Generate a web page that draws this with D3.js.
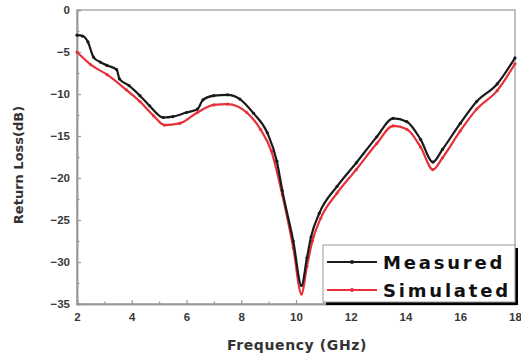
<!DOCTYPE html>
<html><head><meta charset="utf-8">
<script src="https://cdn.jsdelivr.net/npm/d3@7"></script>
<style>
html,body{margin:0;padding:0;background:#fff;}
svg{display:block;}
</style></head>
<body><svg id="c" width="521" height="362"></svg>
<script>
const measuredFreq = [2.0,2.2,2.4,2.6,2.85,3.1,3.45,3.55,3.9,4.3,4.65,5.15,5.5,6.0,6.4,6.6,7.0,7.5,7.95,8.45,8.95,9.3,9.5,9.9,10.2,10.4,10.55,10.85,11.5,12.2,12.95,13.55,14.05,14.55,15.0,15.35,16.0,16.6,17.35,18.0];
const measuredLoss = [-3.0,-3.1,-3.8,-5.6,-6.2,-6.6,-7.1,-8.2,-9.0,-10.2,-11.4,-12.8,-12.7,-12.2,-11.8,-10.7,-10.2,-10.1,-10.6,-12.3,-14.6,-18.0,-21.5,-27.5,-32.8,-29.5,-27.0,-24.2,-21.0,-18.2,-15.1,-12.9,-13.3,-15.4,-18.1,-16.6,-13.5,-10.9,-8.8,-5.7];
const simulatedFreq = [2.0,2.5,3.1,3.8,4.3,4.8,5.2,5.75,6.4,7.0,7.5,8.2,8.7,9.1,9.5,9.9,10.2,10.4,10.6,10.9,11.5,12.2,12.95,13.55,14.05,14.55,15.0,15.35,16.0,16.6,17.35,18.0];
const simulatedLoss = [-5.0,-6.5,-7.7,-9.5,-10.9,-12.6,-13.7,-13.5,-12.2,-11.3,-11.2,-12.2,-14.2,-16.8,-22.0,-28.3,-33.8,-30.5,-27.5,-24.8,-21.8,-19.0,-15.9,-13.8,-14.2,-16.3,-19.0,-17.6,-14.4,-11.8,-9.6,-6.4];
const xTicks = [2,4,6,8,10,12,14,16,18];
const yTicks = [0,-5,-10,-15,-20,-25,-30,-35];
const seriesNames = ["Measured","Simulated"];
const seriesColors = ["#1a1a1a","#e8303a"];

const svg = d3.select("#c");
const L=77,R=515,T=10,B=304;
const x = d3.scaleLinear().domain([2,18]).range([L,R]);
const y = d3.scaleLinear().domain([-35,0]).range([B,T]);
const axisColor="#999", labelColor="#3a3a3a";

// frame
svg.append("rect").attr("x",L).attr("y",T).attr("width",R-L).attr("height",B-T)
  .attr("fill","none").attr("stroke","#aaa").attr("stroke-width",1.5);

// x axis
const xa = svg.append("g").attr("transform",`translate(0,${B})`)
  .call(d3.axisBottom(x).tickValues(xTicks).tickFormat(d3.format("d")).tickSize(-4).tickPadding(9));
const xm = svg.append("g").attr("transform",`translate(0,${B})`)
  .call(d3.axisBottom(x).tickValues(d3.range(3,18,2)).tickFormat("").tickSize(-2.5));
// y axis
const ya = svg.append("g").attr("transform",`translate(${L},0)`)
  .call(d3.axisLeft(y).tickValues(yTicks).tickFormat(d3.format("d")).tickSize(-4).tickPadding(7));
const ym = svg.append("g").attr("transform",`translate(${L},0)`)
  .call(d3.axisLeft(y).tickValues(d3.range(-32.5,0,5)).tickFormat("").tickSize(-2.5));
[xa,xm,ya,ym].forEach(g=>{
  g.select(".domain").attr("stroke",axisColor).attr("stroke-width",1.5);
  g.selectAll(".tick line").attr("stroke",axisColor).attr("stroke-width",1.2);
  g.selectAll("text").attr("fill",labelColor).attr("font-family","Liberation Sans, Arial, sans-serif")
   .attr("font-weight","bold").attr("font-size",11.5);
});

// axis titles
svg.append("text").attr("x",297).attr("y",350).attr("text-anchor","middle")
  .attr("font-family","DejaVu Sans, sans-serif").attr("font-weight","bold").attr("font-size",14)
  .attr("fill","#333").attr("letter-spacing",0.6).text("Frequency (GHz)");
svg.append("text").attr("transform","translate(23,165) rotate(-90)").attr("text-anchor","middle")
  .attr("font-family","DejaVu Sans, sans-serif").attr("font-weight","bold").attr("font-size",13)
  .attr("fill","#333").text("Return Loss(dB)");

// lines
const data = [
  measuredFreq.map((f,i)=>({f,v:measuredLoss[i]})),
  simulatedFreq.map((f,i)=>({f,v:simulatedLoss[i]}))
];
const line = d3.line().x(d=>x(d.f)).y(d=>y(d.v)).curve(d3.curveMonotoneX);
[1,0].forEach(i=>{
  svg.append("path").datum(data[i]).attr("d",line).attr("fill","none")
    .attr("stroke",seriesColors[i]).attr("stroke-width",2.2).attr("stroke-linejoin","round");
  svg.append("g").selectAll("circle").data(data[i]).join("circle")
    .attr("cx",d=>x(d.f)).attr("cy",d=>y(d.v)).attr("r",1.6).attr("fill",seriesColors[i]);
});

// legend
const lg = svg.append("g");
const lx=323, ly=245, lw=192, lh=57;
lg.append("rect").attr("x",lx+3).attr("y",ly+3).attr("width",lw).attr("height",lh).attr("fill","#000");
lg.append("rect").attr("x",lx).attr("y",ly).attr("width",lw).attr("height",lh)
  .attr("fill","#fff").attr("stroke","#999").attr("stroke-width",1);
seriesNames.forEach((n,i)=>{
  const yy = ly+17+i*28;
  lg.append("line").attr("x1",lx+4).attr("x2",lx+54).attr("y1",yy).attr("y2",yy)
    .attr("stroke",seriesColors[i]).attr("stroke-width",2);
  lg.append("circle").attr("cx",lx+29).attr("cy",yy).attr("r",2).attr("fill",seriesColors[i]);
  lg.append("text").attr("x",lx+60).attr("y",yy+7).attr("font-family","DejaVu Sans, sans-serif")
    .attr("font-weight","bold").attr("font-size",18).attr("letter-spacing",2.8).attr("fill","#111").text(n);
});
</script></body></html>
